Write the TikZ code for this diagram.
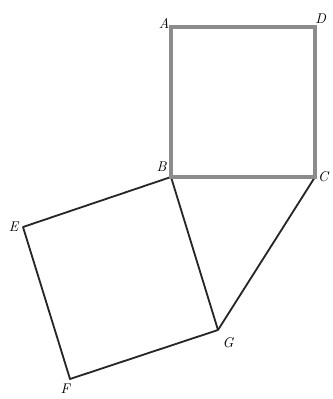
\documentclass[tikz,border=0pt]{standalone}
\usetikzlibrary{positioning}

\begin{document}
\begin{tikzpicture}[
        x=0.025cm, y=-0.025cm,
        every node/.style={font=\normalsize\itshape, inner sep=1pt},
        greyside/.style={draw=black!45, line width=2.4pt, line join=miter},
        blackside/.style={draw=black!85, line width=1.3pt, line join=round},
    ]
    \useasboundingbox (0,0) rectangle (333,399);
    % vertices
    \coordinate (A) at (171,27);
    \coordinate (D) at (315,27);
    \coordinate (B) at (171,177);
    \coordinate (C) at (315,177);
    \coordinate (E) at (23,227);
    \coordinate (F) at (70,379);
    \coordinate (G) at (218,330);
    % square BEFG and CG
    \draw[blackside] (B) -- (E) -- (F) -- (G) -- cycle;
    \draw[blackside] (C) -- (G);
    % square ABCD
    \draw[greyside] (A) -- (D) -- (C) -- (B) -- cycle;
    % labels
    \node[above left=-2pt and 0pt of A] (lA) {A};
    \node[above right=1pt and -1pt of D] (lD) {D};
    \node[above left=3pt and 2pt of B] (lB) {B};
    \node[right=1pt of C] (lC) {C};
    \node[left=2pt of E] (lE) {E};
    \node[below left=2pt and -1pt of F] (lF) {F};
    \node[below right=4pt and 2pt of G] (lG) {G};
\end{tikzpicture}
\end{document}
